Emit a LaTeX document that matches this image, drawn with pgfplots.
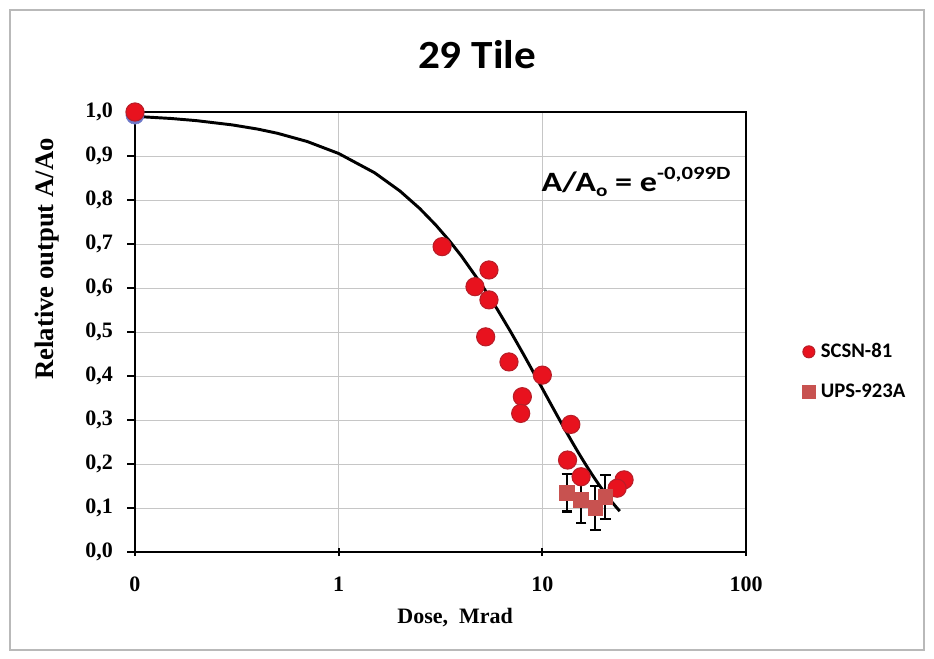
\documentclass[border=0pt]{standalone}
\usepackage{pgfplots}
\pgfplotsset{compat=1.18}
\usepackage{fontspec}
\setmainfont{Liberation Serif}
\newfontfamily\calibri{Carlito}
\definecolor{cfill}{RGB}{232,18,30}
\definecolor{cdraw}{RGB}{185,30,40}
\definecolor{sqcol}{RGB}{200,82,80}
\definecolor{bluept}{RGB}{110,120,200}
\begin{document}
\begin{tikzpicture}
\path[use as bounding box] (0,0) rectangle (700.5pt,493.5pt);
\fill[white] (0,0) rectangle (700.5pt,493.5pt);
\draw[gray!55, line width=0.8pt] (7.5pt,6pt) rectangle (693pt,486pt);
\begin{axis}[
  at={(101.25pt,79.5pt)}, anchor=south west,
  scale only axis, width=458.25pt, height=330pt,
  xmode=log, log basis x=10, xmin=0.1, xmax=100,
  ymin=0, ymax=1.0,
  xtick={0.1,1,10,100}, xticklabels={0,1,10,100},
  xminorticks=false,
  ytick={0,0.1,0.2,0.3,0.4,0.5,0.6,0.7,0.8,0.9,1.0},
  /pgf/number format/assume math mode=true,
  tick label style={font=\fontsize{16.5}{16.5}\selectfont\bfseries},
  xticklabel style={yshift=-12pt},
  yticklabel style={xshift=-7pt, /pgf/number format/.cd, fixed, fixed zerofill, precision=1, use comma},
  grid=major, major grid style={gray!45, line width=0.75pt},
  axis line style={line width=1.8pt},
  tick style={black, line width=1.5pt},
  major tick length=6pt,
  xtick align=center, ytick align=outside,
  xtick pos=bottom, ytick pos=left,
  xlabel={Dose,\ \ Mrad}, ylabel={Relative output A/Ao},
  xlabel style={font=\fontsize{16.5}{16.5}\selectfont\bfseries, at={(axis description cs:0.524,-0.148)}, anchor=center},
  ylabel style={font=\fontsize{20}{20}\selectfont\bfseries, at={(axis description cs:-0.144,0.666)}, anchor=center},
  legend style={at={(1.085,0.41)}, anchor=west, draw=none, fill=none,
    font=\calibri\fontsize{15.5}{15.5}\selectfont\bfseries, row sep=14pt, column sep=2pt},
  legend cell align=left,
  clip=false,
]
\addplot[only marks, mark=*, mark size=6.8pt, mark options={fill=bluept, draw=bluept}, forget plot]
  coordinates {(0.1,0.993)};
\addplot[only marks, mark=*, mark size=6.8pt, mark options={fill=cfill, draw=cdraw, line width=0.8pt},
  legend image post style={mark size=4.5pt}]
  coordinates {
  (0.1,1.0) (3.22,0.694) (5.47,0.641) (4.67,0.603) (5.47,0.573)
  (5.27,0.489) (6.86,0.432) (10.0,0.402) (7.98,0.353) (7.83,0.315)
  (13.8,0.29) (13.3,0.209) (15.5,0.171) (25.2,0.164) (23.3,0.145)
  };
\addlegendentry{SCSN-81}
\addplot[only marks, mark=square*, mark size=5.5pt, color=sqcol, mark options={fill=sqcol, draw=sqcol},
  legend image post style={mark size=5pt},
  error bars/.cd, y dir=both, y explicit,
  error bar style={black, line width=1.6pt},
  error mark options={black, rotate=90, mark size=4pt, line width=1.6pt}]
  coordinates {
  (13.2,0.135) +- (0,0.043)
  (15.5,0.118) +- (0,0.052)
  (18.2,0.100) +- (0,0.050)
  (20.4,0.125) +- (0,0.050)
  };
\addlegendentry{UPS-923A}
\addplot[black, line width=2.2pt, forget plot] coordinates {
  (0.1,0.9901) (0.15,0.9853) (0.2,0.9804) (0.3,0.9707) (0.4,0.9612) (0.5,0.9517)
  (0.7,0.9330) (1,0.9057) (1.5,0.8620) (2,0.8204) (2.5,0.7807) (3,0.7430)
  (3.5,0.7071) (4,0.6730) (5,0.6096) (6,0.5521) (7,0.5001) (8,0.4529)
  (9,0.4102) (10,0.3716) (11,0.3366) (12,0.3048) (13,0.2761) (14,0.2501)
  (15,0.2265) (16,0.2052) (17,0.1858) (18,0.1683) (19,0.1524) (20,0.1381)
  (21,0.1251) (22,0.1133) (23,0.1026) (24,0.0929)
};
\end{axis}
\node at (357.75pt,452.25pt) {\scalebox{1.08}[1]{\calibri\bfseries\fontsize{30}{30}\selectfont 29 Tile}};
\node at (477pt,357pt) {\scalebox{1.22}[1]{\calibri\bfseries\fontsize{21}{21}\selectfont A/A\raisebox{-0.35ex}{\fontsize{13}{13}\selectfont o} = e\raisebox{0.85ex}{\fontsize{14}{14}\selectfont -0,099D}}};
\end{tikzpicture}
\end{document}
